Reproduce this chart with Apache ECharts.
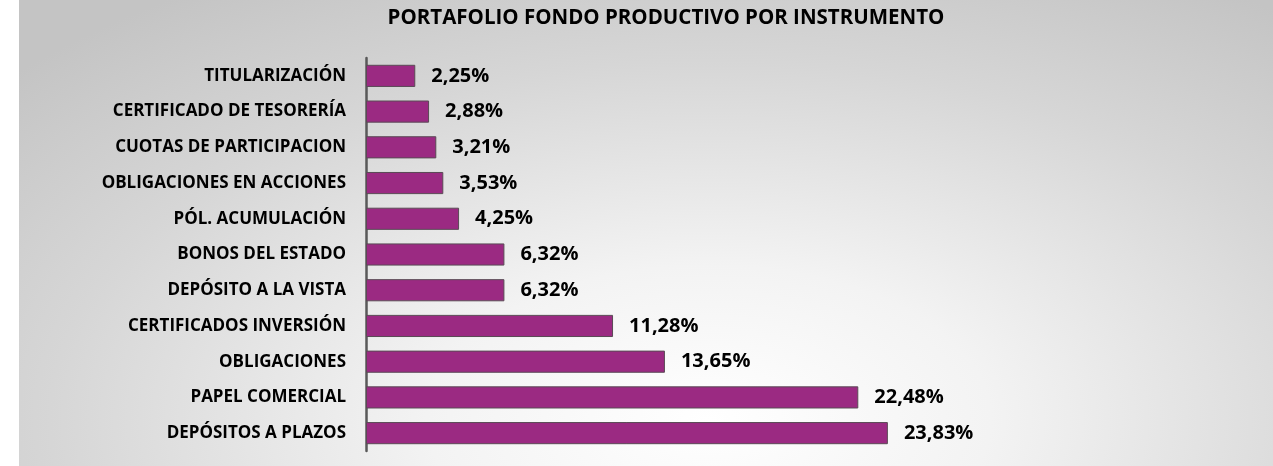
<!doctype html>
<html>
<head>
<meta charset="utf-8"/>
<title>Portafolio fondo productivo</title>
<script src="https://cdn.jsdelivr.net/npm/echarts@6/dist/echarts.min.js"></script>
<style>
body { margin: 0; background: #ffffff; }
#wrap {
    position: absolute; left: 19px; top: 0; width: 1254px; height: 466px;
    background: radial-gradient(ellipse 75% 110% at 55% 90%, #ffffff 0%, #f3f3f3 30%, #d6d6d6 70%, #c4c4c4 100%);
}
#chart { width: 1254px; height: 466px; }
</style>
</head>
<body>
<div id="wrap"><div id="chart"></div></div>
<script>
// categorias de arriba hacia abajo
const categorias = [
    "TITULARIZACIÓN",
    "CERTIFICADO DE TESORERÍA",
    "CUOTAS DE PARTICIPACION",
    "OBLIGACIONES EN ACCIONES",
    "PÓL. ACUMULACIÓN",
    "BONOS DEL ESTADO",
    "DEPÓSITO A LA VISTA",
    "CERTIFICADOS INVERSIÓN",
    "OBLIGACIONES",
    "PAPEL COMERCIAL",
    "DEPÓSITOS A PLAZOS"
];
const porcentajes = [2.25, 2.88, 3.21, 3.53, 4.25, 6.32, 6.32, 11.28, 13.65, 22.48, 23.83];

const fuente = "Open Sans";
const chart = echarts.init(document.getElementById("chart"));
chart.setOption({
    animation: false,
    title: {
        text: "PORTAFOLIO FONDO PRODUCTIVO POR INSTRUMENTO",
        left: 642, top: 3, textAlign: "center",
        textStyle: { fontFamily: fuente, fontWeight: "bold", fontSize: 20.5, color: "#000" }
    },
    grid: { left: 347, top: 58, width: 876, height: 393 },
    xAxis: {
        type: "value", min: 0, max: 40, show: false
    },
    yAxis: {
        type: "category",
        data: categorias,
        inverse: true,
        axisLine: { show: true, lineStyle: { color: "#595959", width: 2.5 } },
        axisTick: { show: false },
        axisLabel: {
            margin: 20,
            fontFamily: fuente, fontWeight: "bold", fontSize: 17, color: "#000"
        }
    },
    series: [{
        type: "bar",
        data: porcentajes,
        barCategoryGap: "38%",
        itemStyle: { color: "#9b2a82", borderColor: "#5a4a55", borderWidth: 1 },
        label: {
            show: true, position: "right", distance: 16,
            fontFamily: fuente, fontWeight: "bold", fontSize: 20, color: "#000",
            formatter: p => p.value.toFixed(2).replace(".", ",") + "%"
        }
    }]
});
</script>
</body>
</html>
